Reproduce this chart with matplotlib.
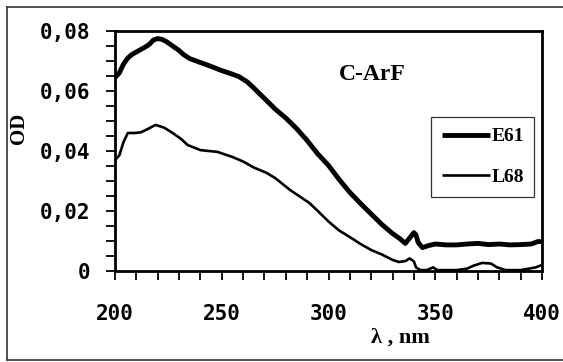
import matplotlib
matplotlib.use("Agg")
import matplotlib.pyplot as plt
from matplotlib.lines import Line2D
from matplotlib.ticker import MultipleLocator, FuncFormatter

# ---- data ----
wl_e61 = [200, 202, 204, 206, 208, 210, 212, 214, 216, 218, 220, 222, 224, 226, 228,
          230, 232, 235, 240, 245, 250, 255, 258, 262, 265, 270, 275, 280, 285, 290,
          295, 300, 305, 310, 315, 320, 325, 330, 333, 336, 338, 340, 341, 342, 344,
          347, 350, 355, 360, 365, 370, 375, 380, 385, 390, 395, 398, 400]
od_e61 = [0.0645, 0.0660, 0.0690, 0.0710, 0.0722, 0.0730, 0.0738, 0.0746, 0.0755, 0.0770,
          0.0775, 0.0772, 0.0765, 0.0755, 0.0745, 0.0735, 0.0722, 0.0708, 0.0695, 0.0682,
          0.0668, 0.0656, 0.0648, 0.0630, 0.0610, 0.0575, 0.0540, 0.0510, 0.0475, 0.0435,
          0.0390, 0.0352, 0.0305, 0.0262, 0.0225, 0.0190, 0.0155, 0.0125, 0.0110, 0.0092,
          0.0110, 0.0128, 0.0120, 0.0095, 0.0078, 0.0085, 0.0090, 0.0087, 0.0087, 0.0090,
          0.0092, 0.0088, 0.0090, 0.0087, 0.0088, 0.0090, 0.0098, 0.0098]

wl_l68 = [200, 202, 204, 206, 209, 212, 215, 219, 223, 227, 231, 234, 240, 248, 255,
          260, 265, 271, 275, 282, 291, 295, 300, 305, 310, 315, 320, 325, 330, 333,
          336, 338, 340, 341, 343, 346, 349, 351, 360, 365, 368, 372, 376, 379, 383,
          390, 394, 397, 400]
od_l68 = [0.0370, 0.0385, 0.0430, 0.0460, 0.0460, 0.0462, 0.0472, 0.0487, 0.0478, 0.0460,
          0.0440, 0.0420, 0.0403, 0.0397, 0.0380, 0.0365, 0.0345, 0.0327, 0.0310, 0.0270,
          0.0227, 0.0200, 0.0165, 0.0135, 0.0113, 0.0090, 0.0070, 0.0055, 0.0037, 0.0030,
          0.0033, 0.0042, 0.0032, 0.0012, 0.0003, 0.0003, 0.0012, 0.0003, 0.0003, 0.0008,
          0.0018, 0.0027, 0.0025, 0.0012, 0.0003, 0.0003, 0.0008, 0.0012, 0.0020]

labels = ["E61", "L68"]
title_text = "C-ArF"
x_label = "λ , nm"
y_label = "OD"

# ---- figure ----
W, H = 563, 362
fig = plt.figure(figsize=(W / 100, H / 100), dpi=100)
fig.patch.set_facecolor("white")

def fx(px):
    return px / W

def fy(py):
    return 1 - py / H

ax = fig.add_axes([fx(115), fy(271), fx(542) - fx(115), fy(31) - fy(271)])

serif = "Liberation Serif"
mono = "DejaVu Sans Mono"

ax.plot(wl_e61, od_e61, color="black", lw=3.5, solid_joinstyle="round",
        solid_capstyle="butt", label=labels[0])
ax.plot(wl_l68, od_l68, color="black", lw=1.9, solid_joinstyle="round",
        solid_capstyle="butt", label=labels[1])

ax.set_xlim(200, 400)
ax.set_ylim(0, 0.08)

ax.xaxis.set_major_locator(MultipleLocator(50))
ax.xaxis.set_minor_locator(MultipleLocator(10))
ax.yaxis.set_major_locator(MultipleLocator(0.02))
ax.yaxis.set_minor_locator(MultipleLocator(0.005))

def yfmt(v, pos):
    if abs(v) < 1e-9:
        return "0"
    return ("%.2f" % v).replace(".", ",")

ax.yaxis.set_major_formatter(FuncFormatter(yfmt))
ax.xaxis.set_major_formatter(FuncFormatter(lambda v, p: "%d" % v))

ax.tick_params(which="both", direction="out", length=6.5, width=1.3, color="black")
ax.tick_params(axis="x", which="major", pad=17)
ax.tick_params(axis="y", which="major", pad=11)
for lab in ax.get_xticklabels() + ax.get_yticklabels():
    lab.set_fontfamily(mono)
    lab.set_fontweight("bold")
    lab.set_fontsize(15)

for s in ax.spines.values():
    s.set_linewidth(2.0)
    s.set_color("black")

fig.text(fx(372), fy(75), title_text, ha="center", va="center",
         fontfamily=serif, fontweight="bold", fontsize=17)
fig.text(fx(400), fy(338), x_label, ha="center", va="center",
         fontfamily=serif, fontweight="bold", fontsize=16)
fig.text(fx(19), fy(128), y_label, ha="center", va="center", rotation=90,
         fontfamily=serif, fontweight="bold", fontsize=15)

leg = ax.legend(loc="upper left",
                bbox_to_anchor=(fx(431), fy(117)), bbox_transform=fig.transFigure,
                prop={"family": serif, "weight": "bold", "size": 14},
                handlelength=2.5, handletextpad=0.05, labelspacing=1.2,
                borderpad=0.55, borderaxespad=0, frameon=True, fancybox=False)
leg.get_frame().set_edgecolor("black")
leg.get_frame().set_linewidth(0.9)

# outer frame
for xs, ys in [([fx(7), 1], [fy(7), fy(7)]),
               ([fx(7), fx(7)], [fy(7), fy(360)]),
               ([fx(7), 1], [fy(360), fy(360)])]:
    fig.add_artist(Line2D(xs, ys, color="#333333", lw=1.2, transform=fig.transFigure))

fig.savefig("out.png", dpi=100, facecolor="white")
